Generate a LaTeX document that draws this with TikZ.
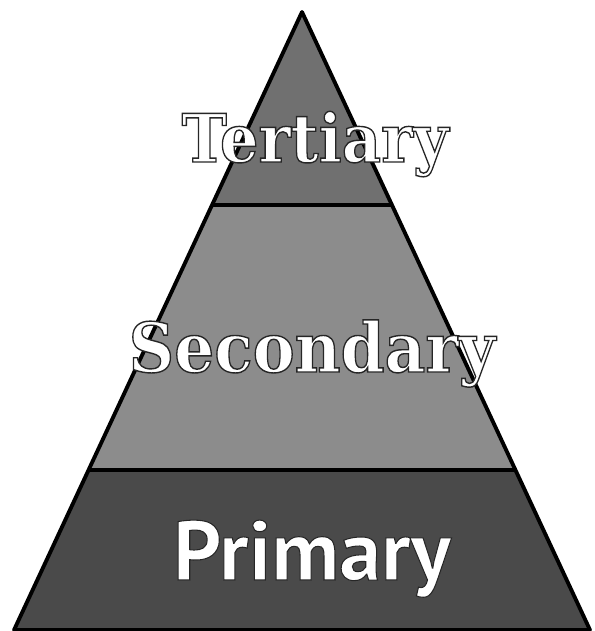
\documentclass[tikz,border=0pt]{standalone}
\usepackage{fontspec}
\usepackage{tikz}
\newfontfamily\primfont{PT Sans}
\newfontfamily\slabfont{DejaVu Serif}
% white letters with a dark rim
\newcommand{\rimtext}[2]{\special{pdf:literal 2 Tr #1 w 0.15 G}#2\special{pdf:literal 0 Tr}}

\begin{document}
\begin{tikzpicture}[x=0.02cm, y=-0.02cm]
\tikzset{
  band/.style={draw=none},
  edge/.style={draw=black,line width=2.2pt,line join=round},
  lbl/.style={text=white,inner sep=0pt,anchor=base}
}
\useasboundingbox (0,0) rectangle (594,631);
% ---- corners
\coordinate (top) at (302,12);
\coordinate (bl) at (14,630);
\coordinate (br) at (590,630);
\coordinate (tl) at (212,205);
\coordinate (tr) at (392,205);
\coordinate (ml) at (89,470);
\coordinate (mr) at (515,470);
% ---- bands
\fill[band,fill=black!56] (top) -- (tr) -- (tl) -- cycle;
\fill[band,fill=black!45] (tl) -- (tr) -- (mr) -- (ml) -- cycle;
\fill[band,fill=black!71] (ml) -- (mr) -- (br) -- (bl) -- cycle;
\draw[edge] (tl) -- (tr);
\draw[edge] (ml) -- (mr);
\draw[edge] (top) -- (br) -- (bl) -- cycle;
% ---- labels
\node[lbl] (tert) at (315,162) {\scalebox{0.91}[1]{\fontsize{38}{40}\selectfont\slabfont\bfseries\rimtext{0.8}{Tertiary}}};
\node[lbl] (sec) at (312,372) {\scalebox{0.92}[1]{\fontsize{39}{41}\selectfont\slabfont\bfseries\rimtext{0.8}{Secondary}}};
\node[lbl] (prim) at (312,580) {\fontsize{48}{50}\selectfont\primfont\bfseries\rimtext{0.6}{Primary}};
\end{tikzpicture}
\end{document}
